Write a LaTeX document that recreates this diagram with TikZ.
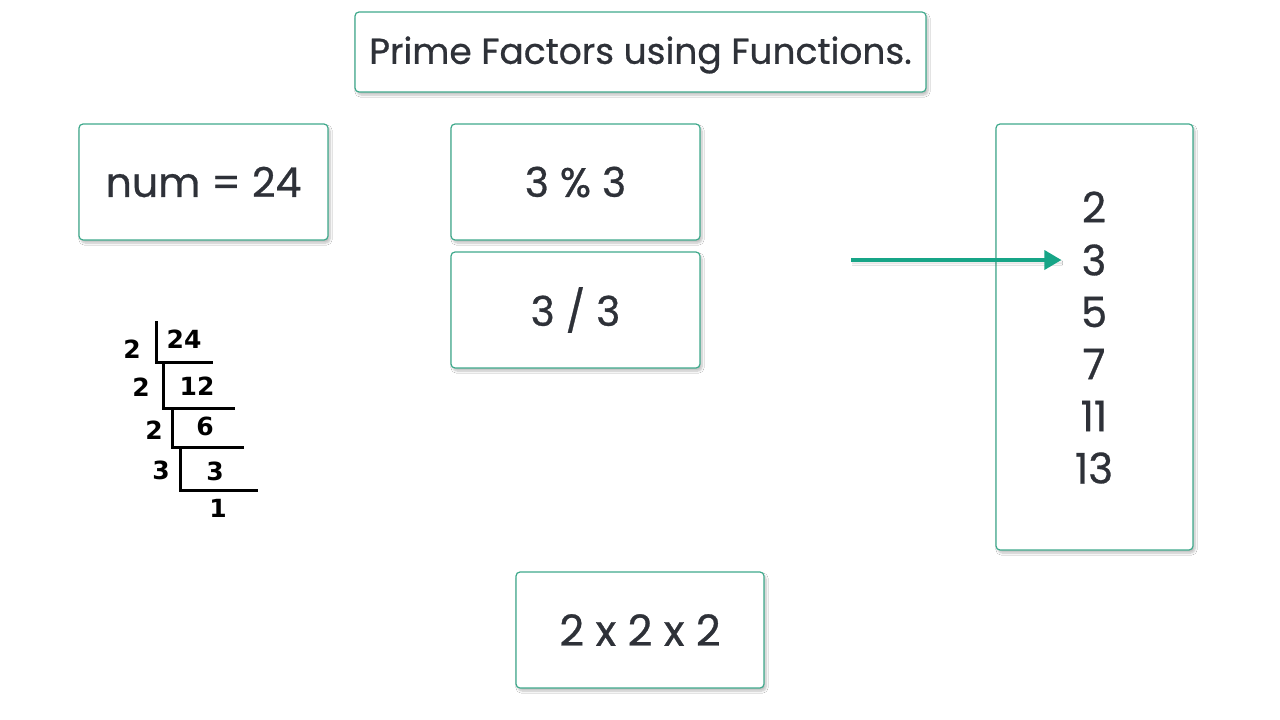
\documentclass[tikz,border=0pt]{standalone}
\usepackage{fontspec}
\setmainfont{Poppins}[FakeBold=0.7]
\newfontfamily\ladderfont{DejaVu Sans}
\usetikzlibrary{shadows.blur,arrows.meta}
\definecolor{teal1}{HTML}{3FA98C}
\definecolor{arrowc}{HTML}{17A587}
\definecolor{txt}{HTML}{2E3138}
\tikzset{
  card/.style={draw=teal1, line width=1.2pt, rounded corners=4pt, fill=white,
    blur shadow={shadow xshift=2pt, shadow yshift=-3pt, shadow blur steps=6, shadow opacity=25},
    text=txt, inner sep=0pt},
  ladtext/.style={font=\ladderfont\bfseries\fontsize{25}{25}\selectfont, text=black, inner sep=0pt},
  ladline/.style={line width=3pt, black},
  listnum/.style={font=\fontsize{42}{42}\selectfont, text=txt, inner sep=0pt}
}
\begin{document}
\begin{tikzpicture}[x=1pt,y=-1pt]
\useasboundingbox (0,0) rectangle (1280,720);
\fill[white] (0,0) rectangle (1280,720);
% boxes
\node[card, minimum width=571pt, minimum height=80pt] (title) at (640.5,52) {};
\node[font=\fontsize{36}{36}\selectfont, text=txt, inner sep=0pt] (titletext) at (640.5,55) {Prime Factors using Functions.};
\node[card, minimum width=249pt, minimum height=116pt, font=\fontsize{41}{41}\selectfont] (num) at (203.5,182) {num = 24};
\node[card, minimum width=249pt, minimum height=116pt, font=\fontsize{41}{41}\selectfont] (mod) at (575.5,182) {3 \% 3};
\node[card, minimum width=249pt, minimum height=116pt, font=\fontsize{41}{41}\selectfont] (div) at (575.5,310) {3 / 3};
\node[card, minimum width=248pt, minimum height=116pt, font=\fontsize{43}{43}\selectfont] (prod) at (640,630) {2 x 2 x 2};
\node[card, minimum width=197pt, minimum height=426pt] (list) at (1094.5,337) {};
% list numbers
\node[listnum] (n2) at (1094,207) {2};
\node[listnum] (n3) at (1094,260) {3};
\node[listnum] (n5) at (1094,312) {5};
\node[listnum] (n7) at (1094,364) {7};
\node[listnum] (n11) at (1094,416) {11};
\node[listnum] (n13) at (1094,468) {13};
% arrow
\coordinate (astart) at (851,260);
\draw[arrowc, line width=3.5pt, -{Stealth[length=17pt,width=19pt,inset=0pt]},
  blur shadow={shadow xshift=1pt, shadow yshift=-3pt, shadow opacity=20}]
  (astart) -- ([xshift=-20pt]n3.west);
% division ladder
\coordinate (v1t) at (156,321);
\coordinate (v1b) at (156,362);
\coordinate (h1e) at (213,362);
\coordinate (v2t) at (163,362);
\coordinate (v2b) at (163,408);
\coordinate (h2e) at (235,408);
\coordinate (v3t) at (172,408);
\coordinate (v3b) at (172,447);
\coordinate (h3e) at (244,447);
\coordinate (v4t) at (180,447);
\coordinate (v4b) at (180,490);
\coordinate (h4e) at (258,490);
\draw[ladline] (v1t) -- (v1b) -- (h1e);
\draw[ladline] (v2t) -- (v2b) -- (h2e);
\draw[ladline] (v3t) -- (v3b) -- (h3e);
\draw[ladline] (v4t) -- (v4b) -- (h4e);
\node[ladtext] (d1) at (132,349) {2};
\node[ladtext] (q1) at (184,339) {24};
\node[ladtext] (d2) at (141,387) {2};
\node[ladtext] (q2) at (197,386) {12};
\node[ladtext] (d3) at (154,430) {2};
\node[ladtext] (q3) at (205,426) {6};
\node[ladtext] (d4) at (161,470) {3};
\node[ladtext] (q4) at (215,471) {3};
\node[ladtext] (q5) at (218,508) {1};
\end{tikzpicture}
\end{document}
